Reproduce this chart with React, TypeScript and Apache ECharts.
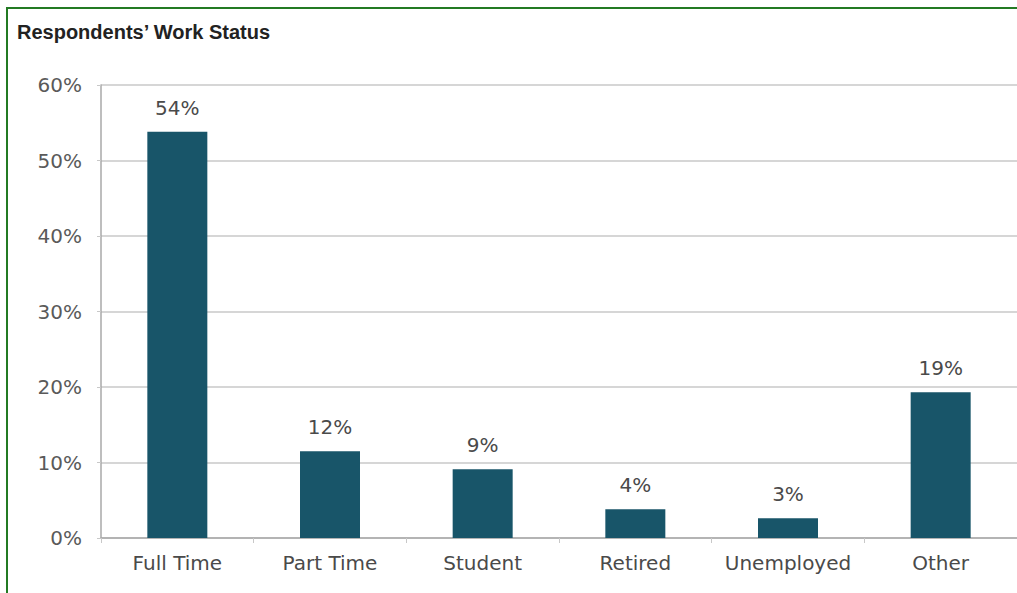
import React, { useEffect, useRef } from "react";
import * as echarts from "echarts";

const categories = ["Full Time", "Part Time", "Student", "Retired", "Unemployed", "Other"];
const values = [53.8, 11.5, 9.1, 3.8, 2.6, 19.3];
const valueLabels = ["54%", "12%", "9%", "4%", "3%", "19%"];
const yTicks = [0, 10, 20, 30, 40, 50, 60];
const title = "Respondents\u2019 Work Status";

export default function App() {
  const ref = useRef<HTMLDivElement>(null);
  useEffect(() => {
    document.body.style.margin = "0";
    const chart = echarts.init(ref.current!, null, { renderer: "svg" });
    const font = "'DejaVu Sans', sans-serif";
    chart.setOption({
      animation: false,
      backgroundColor: "#ffffff",
      title: {
        text: title,
        left: 12,
        top: 17,
        textStyle: {
          fontFamily: "'Liberation Sans', Arial, sans-serif",
          fontWeight: "bold",
          fontSize: 20,
          color: "#222222",
        },
      },
      graphic: [
        { type: "line", shape: { x1: 6, y1: 8, x2: 1017, y2: 8 }, style: { stroke: "#237a23", lineWidth: 2 } },
        { type: "line", shape: { x1: 7, y1: 7, x2: 7, y2: 593 }, style: { stroke: "#237a23", lineWidth: 2 } },
      ],
      grid: { left: 101, top: 85, width: 920, height: 453, containLabel: false },
      xAxis: {
        type: "category",
        data: categories,
        axisLine: { show: true, lineStyle: { color: "#a8a8a8", width: 1.5 } },
        axisTick: { show: true, interval: 0, length: 5, lineStyle: { color: "#c8c8c8" } },
        axisLabel: { interval: 0, fontFamily: font, fontSize: 20, color: "#4a4a4a", margin: 15 },
      },
      yAxis: {
        type: "value",
        min: 0,
        max: 60,
        interval: 10,
        axisLine: { show: true, lineStyle: { color: "#a8a8a8", width: 1.5 } },
        axisTick: { show: true, length: 4, lineStyle: { color: "#c8c8c8" } },
        splitLine: { show: true, lineStyle: { color: "#c8c8c8", width: 1.5 } },
        axisLabel: {
          fontFamily: font,
          fontSize: 20,
          color: "#5a5a5a",
          margin: 19,
          formatter: (v: number) => (yTicks.includes(v) ? v + "%" : ""),
        },
      },
      series: [
        {
          type: "bar",
          data: values,
          barWidth: 60,
          itemStyle: { color: "#185569" },
          label: {
            show: true,
            position: "top",
            distance: 14,
            fontFamily: font,
            fontSize: 20,
            color: "#4a4a4a",
            formatter: (p: any) => valueLabels[p.dataIndex],
          },
        },
      ],
    });
    return () => chart.dispose();
  }, []);
  return <div ref={ref} style={{ width: 1017, height: 593 }} />;
}
